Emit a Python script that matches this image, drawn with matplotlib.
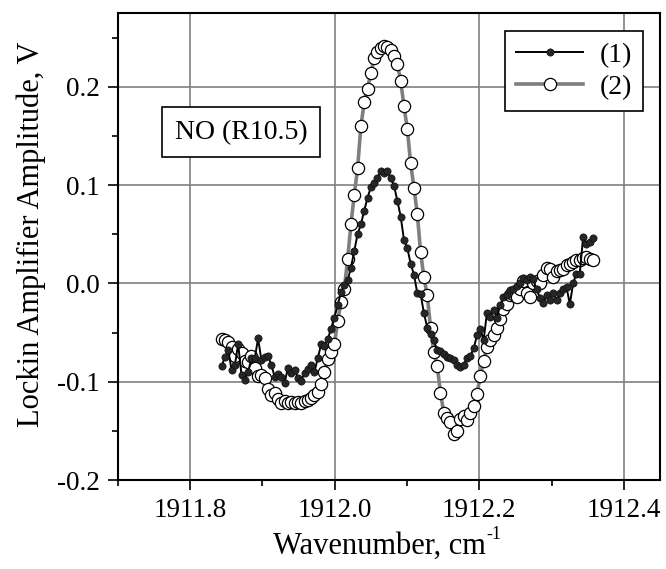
import numpy as np
import matplotlib
matplotlib.use('Agg')
import matplotlib.pyplot as plt
from matplotlib.ticker import MultipleLocator, FormatStrFormatter

plt.rcParams['font.family'] = ['Liberation Serif', 'DejaVu Serif']
plt.rcParams['axes.unicode_minus'] = False

# scan grid (cm^-1)
x_start = 1911.8435
x_step = 0.004588

# lockin amplitude, V
amp1 = [-0.084, -0.075, -0.068, -0.088, -0.083, -0.062, -0.093, -0.098, -0.090, -0.076,
        -0.076, -0.056, -0.078, -0.075, -0.074, -0.083, -0.095, -0.092, -0.095, -0.101,
        -0.086, -0.091, -0.088, -0.096, -0.099, -0.091, -0.087, -0.083, -0.090, -0.076,
        -0.062, -0.064, -0.057, -0.046, -0.035, -0.022, -0.009, -0.002, 0.003, 0.016,
        0.033, 0.050, 0.060, 0.074, 0.087, 0.098, 0.102, 0.107, 0.114, 0.112,
        0.114, 0.107, 0.099, 0.084, 0.068, 0.044, 0.036, 0.020, 0.009, -0.010,
        -0.011, -0.030, -0.045, -0.051, -0.058, -0.068, -0.069, -0.072, -0.075, -0.076,
        -0.078, -0.083, -0.085, -0.083, -0.076, -0.074, -0.066, -0.053, -0.046, -0.058,
        -0.030, -0.034, -0.027, -0.035, -0.022, -0.014, -0.012, -0.007, -0.006, -0.003,
        0.000, 0.005, 0.003, 0.007, 0.004, -0.006, -0.015, -0.020, -0.012, -0.017,
        -0.010, -0.017, -0.010, -0.006, -0.004, -0.021, 0.000, 0.010, 0.010, 0.047,
        0.040, 0.042, 0.046]

amp2 = [-0.057, -0.058, -0.060, -0.065, -0.074, -0.067, -0.071, -0.079, -0.080, -0.074,
        -0.086, -0.094, -0.093, -0.096, -0.107, -0.114, -0.111, -0.118, -0.122, -0.120,
        -0.122, -0.121, -0.122, -0.121, -0.122, -0.120, -0.119, -0.117, -0.114, -0.110,
        -0.102, -0.090, -0.077, -0.070, -0.062, -0.038, -0.019, -0.006, 0.025, 0.060,
        0.090, 0.117, 0.160, 0.184, 0.198, 0.214, 0.229, 0.235, 0.239, 0.241,
        0.240, 0.237, 0.231, 0.223, 0.206, 0.180, 0.157, 0.122, 0.097, 0.071,
        0.032, 0.006, -0.012, -0.045, -0.070, -0.084, -0.111, -0.132, -0.137, -0.141,
        -0.153, -0.150, -0.138, -0.135, -0.139, -0.132, -0.125, -0.113, -0.094, -0.079,
        -0.065, -0.058, -0.052, -0.045, -0.036, -0.026, -0.021, -0.012, -0.011, -0.014,
        -0.006, 0.002, -0.010, -0.014, 0.000, 0.002, 0.000, 0.009, 0.016, 0.015,
        0.007, 0.013, 0.014, 0.015, 0.019, 0.020, 0.022, 0.024, 0.024, 0.026,
        0.027, 0.025, 0.024]

labels = ['(1)', '(2)']
note = 'NO (R10.5)'

wn = x_start + x_step * np.arange(len(amp1))

fig = plt.figure(figsize=(6.66, 5.69), dpi=100)
ax = fig.add_axes([0.177, 0.1564, 0.814, 0.8207])

ax.plot(wn, amp2, '-', color='#7f7f7f', lw=2.6, marker='o', ms=8.8,
        mfc='white', mec='black', mew=0.9, label=labels[1], zorder=3)
ax.plot(wn, amp1, '-', color='black', lw=1.4, marker='o', ms=5.2,
        mfc='#262626', mec='#0d0d0d', mew=0.5, label=labels[0], zorder=4)

ax.set_xlim(1911.7, 1912.45)
ax.set_ylim(-0.2, 0.275)
ax.xaxis.set_major_locator(MultipleLocator(0.2))
ax.xaxis.set_minor_locator(MultipleLocator(0.1))
ax.yaxis.set_major_locator(MultipleLocator(0.1))
ax.yaxis.set_minor_locator(MultipleLocator(0.05))
ax.xaxis.set_major_formatter(FormatStrFormatter('%.1f'))
ax.yaxis.set_major_formatter(FormatStrFormatter('%.1f'))

ax.grid(True, which='major', color='#808080', lw=1.2, zorder=0)
ax.set_axisbelow(True)
ax.tick_params(which='both', direction='out', top=False, right=False,
               labelsize=19.5, width=1.2)
ax.tick_params(which='major', length=7, pad=6)
ax.tick_params(which='minor', length=4)
for s in ax.spines.values():
    s.set_linewidth(1.5)

ax.set_xlabel('Wavenumber, cm', fontsize=22, labelpad=6)
ax.xaxis.label.set_x(0.482)
ax.annotate('-1', xy=(1, 1), xycoords=ax.xaxis.label, xytext=(0.5, 4),
            textcoords='offset points', fontsize=13, ha='left', va='top')
ax.set_ylabel('Lockin Amplifier Amplitude, V', fontsize=22, labelpad=8)
ax.yaxis.label.set_y(0.527)

ax.text(0.227, 0.745, note, transform=ax.transAxes, ha='center', va='center',
        fontsize=20, bbox=dict(boxstyle='square,pad=0.45', fc='white', ec='black', lw=1.2),
        zorder=5)

h, l = ax.get_legend_handles_labels()
leg = ax.legend(h[::-1], l[::-1], loc='upper right', bbox_to_anchor=(0.969, 0.961),
                borderaxespad=0, fontsize=20, fancybox=False, framealpha=1,
                edgecolor='black', handlelength=2.4, borderpad=0.4,
                labelspacing=0.25, handletextpad=0.6)
leg.get_frame().set_linewidth(1.2)
leg.set_zorder(6)

fig.savefig('out.png', dpi=100)
